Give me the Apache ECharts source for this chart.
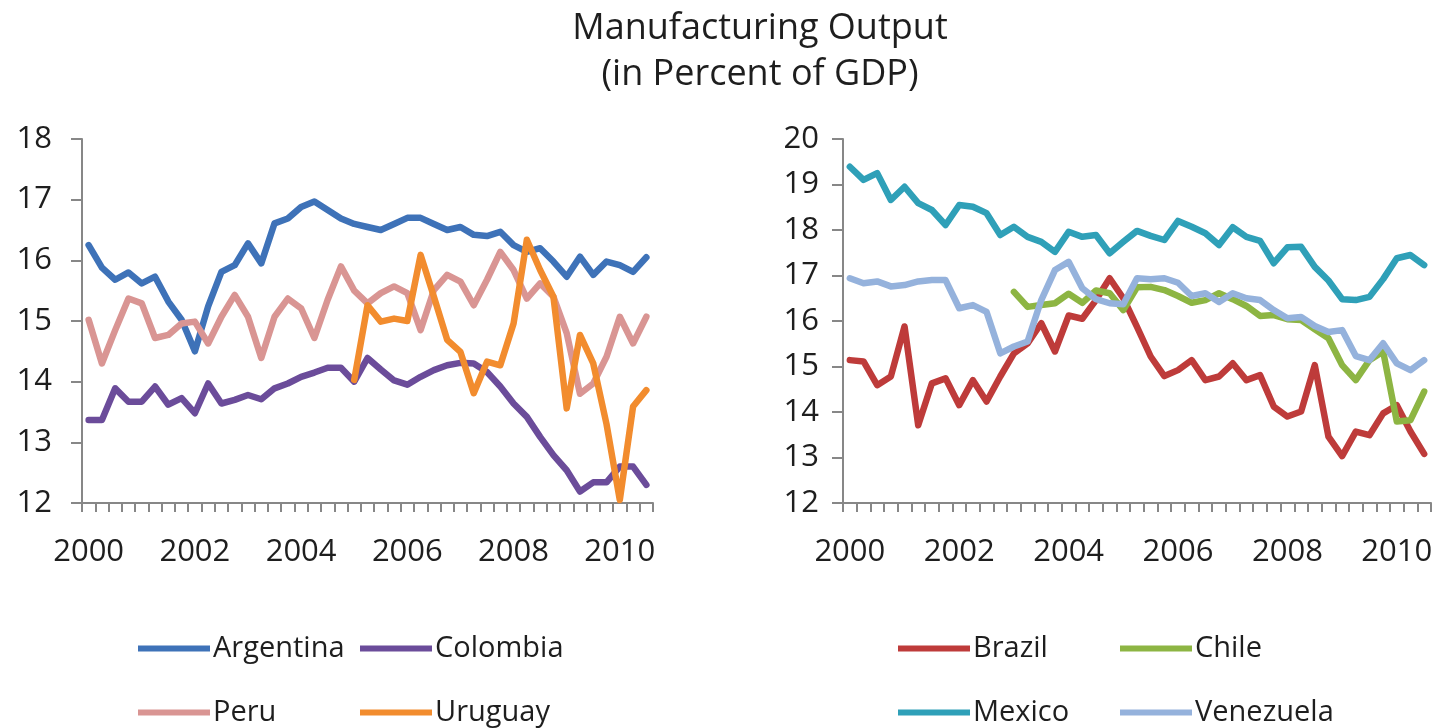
<!DOCTYPE html>
<html>
<head>
<meta charset="utf-8">
<title>Manufacturing Output</title>
<script src="https://cdn.jsdelivr.net/npm/echarts@6/dist/echarts.min.js"></script>
<style>
  html, body {
    margin: 0;
    padding: 0;
    background: #ffffff;
  }

  #chart {
    width: 1437px;
    height: 728px;
  }
</style>
</head>
<body>
<div id="chart"></div>
<script>
  // quarterly, 2000Q1 .. 2010Q3
  const years = ['2000', '2001', '2002', '2003', '2004', '2005', '2006', '2007', '2008', '2009', '2010']
  const quarters = []
  years.forEach(function (y) {
    ['Q1', 'Q2', 'Q3', 'Q4'].forEach(function (q) {
      if (quarters.length < 43) quarters.push(y + q)
    })
  })

  const argentina = [16.25, 15.88, 15.68, 15.8, 15.62, 15.73, 15.32, 15.02, 14.5, 15.24,
    15.81, 15.92, 16.28, 15.95, 16.61, 16.69, 16.88, 16.97, 16.83, 16.69,
    16.6, 16.55, 16.5, 16.6, 16.7, 16.7, 16.6, 16.5, 16.55, 16.42,
    16.4, 16.47, 16.25, 16.14, 16.2, 15.98, 15.73, 16.06, 15.76, 15.98,
    15.92, 15.81, 16.05]
  const colombia = [13.37, 13.37, 13.89, 13.67, 13.67, 13.92, 13.62, 13.73, 13.48, 13.97,
    13.64, 13.7, 13.78, 13.71, 13.89, 13.97, 14.08, 14.15, 14.23, 14.23,
    14.0, 14.39, 14.2, 14.02, 13.95, 14.08, 14.19, 14.27, 14.31, 14.3,
    14.16, 13.92, 13.64, 13.42, 13.09, 12.79, 12.54, 12.19, 12.34, 12.34,
    12.6, 12.6, 12.3]
  const peru = [15.02, 14.3, 14.85, 15.37, 15.29, 14.72, 14.77, 14.96, 14.99, 14.63,
    15.07, 15.43, 15.07, 14.39, 15.07, 15.37, 15.21, 14.72, 15.35, 15.9,
    15.5, 15.29, 15.46, 15.57, 15.46, 14.85, 15.51, 15.76, 15.65, 15.26,
    15.68, 16.14, 15.84, 15.37, 15.62, 15.4, 14.8, 13.8, 13.97, 14.41,
    15.07, 14.63, 15.07]
  const uruguay = [null, null, null, null, null, null, null, null, null, null,
    null, null, null, null, null, null, null, null, null, null,
    14.03, 15.26, 14.99, 15.04, 15.0, 16.09, 15.4, 14.69, 14.49, 13.81,
    14.33, 14.27, 14.96, 16.34, 15.84, 15.4, 13.56, 14.77, 14.3, 13.3,
    12.05, 13.59, 13.86]

  const brazil = [15.14, 15.11, 14.59, 14.78, 15.88, 13.71, 14.63, 14.74, 14.15, 14.7,
    14.23, 14.78, 15.29, 15.51, 15.95, 15.33, 16.12, 16.05, 16.46, 16.94,
    16.5, 15.87, 15.22, 14.79, 14.92, 15.14, 14.7, 14.78, 15.07, 14.7,
    14.81, 14.12, 13.9, 14.01, 15.03, 13.46, 13.03, 13.57, 13.49, 13.97,
    14.15, 13.57, 13.08]
  const chile = [null, null, null, null, null, null, null, null, null, null,
    null, null, 16.64, 16.31, 16.35, 16.39, 16.6, 16.4, 16.67, 16.61,
    16.24, 16.74, 16.75, 16.68, 16.55, 16.4, 16.46, 16.61, 16.48, 16.33,
    16.11, 16.13, 16.04, 16.02, 15.82, 15.62, 15.03, 14.7, 15.14, 15.33,
    13.79, 13.82, 14.45]
  const mexico = [19.39, 19.1, 19.25, 18.66, 18.95, 18.59, 18.44, 18.11, 18.55, 18.51,
    18.37, 17.89, 18.07, 17.85, 17.74, 17.52, 17.96, 17.85, 17.89, 17.49,
    17.74, 17.98, 17.87, 17.78, 18.2, 18.07, 17.93, 17.67, 18.06, 17.85,
    17.76, 17.27, 17.62, 17.63, 17.19, 16.89, 16.48, 16.46, 16.53, 16.92,
    17.38, 17.45, 17.23]
  const venezuela = [16.94, 16.83, 16.87, 16.76, 16.79, 16.87, 16.9, 16.9, 16.28, 16.35,
    16.2, 15.29, 15.44, 15.55, 16.46, 17.12, 17.3, 16.72, 16.48, 16.39,
    16.37, 16.94, 16.92, 16.94, 16.84, 16.55, 16.61, 16.42, 16.61, 16.5,
    16.46, 16.24, 16.06, 16.09, 15.89, 15.76, 15.8, 15.23, 15.14, 15.51,
    15.07, 14.92, 15.14]

  const font = '"Open Sans", "Liberation Sans", sans-serif'
  const axisGrey = '#878787'
  const textColor = '#1e1e1e'

  function xAxisOf(gridIndex) {
    return {
      type: 'category',
      gridIndex: gridIndex,
      data: quarters,
      boundaryGap: true,
      axisLine: {lineStyle: {color: axisGrey, width: 2}},
      axisTick: {show: true, interval: 0, length: 9, lineStyle: {color: axisGrey, width: 2}},
      axisLabel: {
        interval: 7,
        margin: 34,
        color: textColor,
        fontSize: 31,
        fontFamily: font,
        formatter: function (v) {
          return v.substring(0, 4)
        }
      },
      splitLine: {show: false}
    }
  }

  function yAxisOf(gridIndex, max, margin) {
    return {
      type: 'value',
      gridIndex: gridIndex,
      min: 12,
      max: max,
      interval: 1,
      axisLine: {show: true, lineStyle: {color: axisGrey, width: 2}},
      axisTick: {show: true, length: 11, lineStyle: {color: axisGrey, width: 2}},
      axisLabel: {color: textColor, fontSize: 31, fontFamily: font, margin: margin},
      splitLine: {show: false}
    }
  }

  function lineOf(name, data, color, idx) {
    return {
      name: name,
      type: 'line',
      xAxisIndex: idx,
      yAxisIndex: idx,
      data: data,
      symbol: 'none',
      connectNulls: false,
      lineStyle: {color: color, width: 6.5, join: 'round', cap: 'round'},
      itemStyle: {color: color},
      emphasis: {disabled: true}
    }
  }

  function legendOf(name, left, top) {
    return {
      data: [name],
      left: left,
      top: top,
      icon: 'rect',
      itemWidth: 72,
      itemHeight: 6,
      itemGap: 0,
      textStyle: {color: textColor, fontSize: 29, fontFamily: font, padding: [0, 0, 0, -2]},
      selectedMode: false
    }
  }

  let myChart = echarts.init(document.getElementById('chart'))
  let option = {
    backgroundColor: '#ffffff',
    animation: false,
    graphic: [{
      type: 'text',
      x: 760,
      y: 6,
      style: {
        text: 'Manufacturing Output\n(in Percent of GDP)',
        fill: textColor,
        font: '36px ' + font,
        align: 'center',
        verticalAlign: 'top',
        lineHeight: 46
      }
    }],
    legend: [
      legendOf('Argentina', 133, 629),
      legendOf('Colombia', 355, 629),
      legendOf('Peru', 133, 693),
      legendOf('Uruguay', 355, 693),
      legendOf('Brazil', 893, 629),
      legendOf('Chile', 1115, 629),
      legendOf('Mexico', 893, 693),
      legendOf('Venezuela', 1115, 693)
    ],
    grid: [
      {left: 82, top: 139, width: 571, height: 364},
      {left: 843, top: 139, width: 588, height: 364}
    ],
    xAxis: [xAxisOf(0), xAxisOf(1)],
    yAxis: [yAxisOf(0, 18, 30), yAxisOf(1, 20, 24)],
    series: [
      lineOf('Argentina', argentina, '#3E72B8', 0),
      lineOf('Colombia', colombia, '#6B4C9A', 0),
      lineOf('Peru', peru, '#D99593', 0),
      lineOf('Uruguay', uruguay, '#F28C2E', 0),
      lineOf('Brazil', brazil, '#BE3B3A', 1),
      lineOf('Chile', chile, '#8DB543', 1),
      lineOf('Mexico', mexico, '#2FA0B8', 1),
      lineOf('Venezuela', venezuela, '#95B2DC', 1)
    ]
  }
  myChart.setOption(option)
</script>
</body>
</html>
